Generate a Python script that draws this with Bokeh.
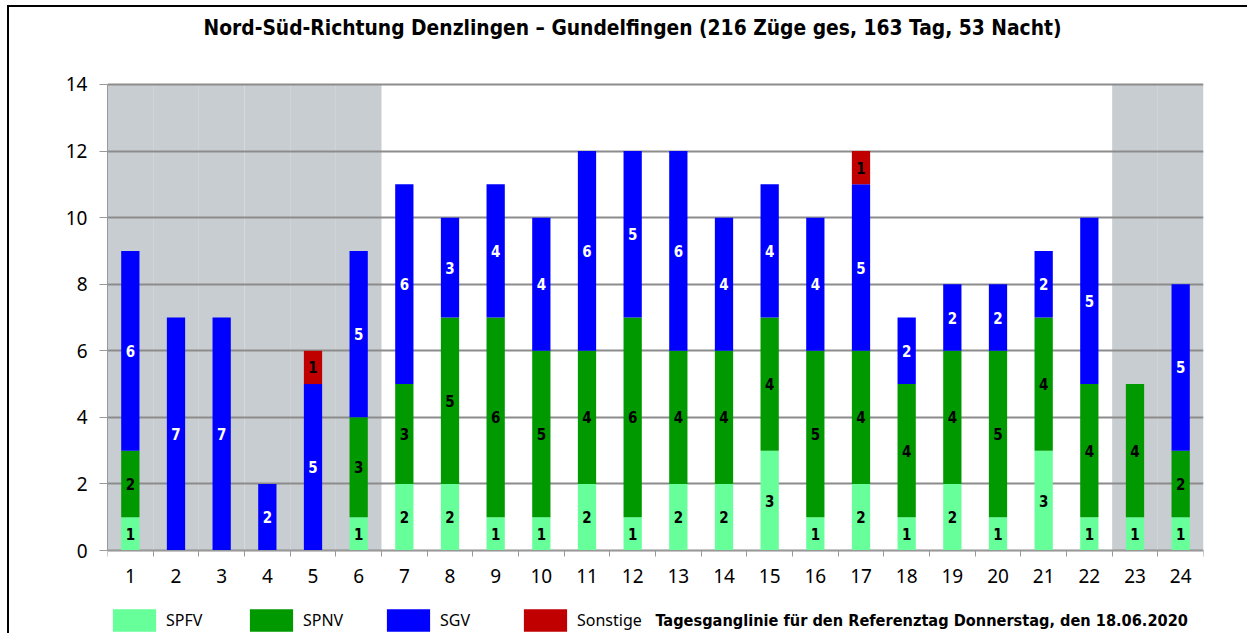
from bokeh.plotting import figure
from bokeh.models import ColumnDataSource, FixedTicker, Legend, LegendItem, Label, Range1d
from bokeh.core.properties import value
from bokeh.embed import file_html
from bokeh.resources import INLINE

hours = list(range(1, 25))
spfv = [1, 0, 0, 0, 0, 1, 2, 2, 1, 1, 2, 1, 2, 2, 3, 1, 2, 1, 2, 1, 3, 1, 1, 1]
spnv = [2, 0, 0, 0, 0, 3, 3, 5, 6, 5, 4, 6, 4, 4, 4, 5, 4, 4, 4, 5, 4, 4, 4, 2]
sgv = [6, 7, 7, 2, 5, 5, 6, 3, 4, 4, 6, 5, 6, 4, 4, 4, 5, 2, 2, 2, 2, 5, 0, 5]
sonst = [0, 0, 0, 0, 1, 0, 0, 0, 0, 0, 0, 0, 0, 0, 0, 0, 1, 0, 0, 0, 0, 0, 0, 0]
night_hours = [1, 2, 3, 4, 5, 6, 23, 24]
series = ["SPFV", "SPNV", "SGV", "Sonstige"]
colors = ["#66FF99", "#009900", "#0000FF", "#C00000"]
label_colors = ["#000000", "#000000", "#FFFFFF", "#000000"]
y_ticks = [0, 2, 4, 6, 8, 10, 12, 14]
title_text = "Nord-Süd-Richtung Denzlingen \u2013 Gundelfingen (216 Züge ges, 163 Tag, 53 Nacht)"
footnote = "Tagesganglinie  für den Referenztag Donnerstag, den 18.06.2020"

W, H = 1240, 628
# frame spans the full canvas height; y range extended so 0..14 maps to the chart area
p = figure(width=W, height=H, output_backend="svg", toolbar_location=None,
           x_range=Range1d(0.5, 24.5), y_range=Range1d(-2.553, 16.313),
           min_border_left=98, min_border_right=46, min_border_top=0, min_border_bottom=0)
p.styles = {"border-left": "2px solid #000000", "border-top": "2px solid #000000"}
p.margin = (5, 0, 0, 7)
p.outline_line_color = None
p.background_fill_color = "#FFFFFF"

# night shading
night_src = ColumnDataSource(dict(x=night_hours, top=[14] * len(night_hours)))
p.vbar(x="x", top="top", bottom=0, width=1.0, source=night_src,
       fill_color="#C8CDD1", line_color=None, level="image")

# stacked bars
data = dict(x=hours, SPFV=spfv, SPNV=spnv, SGV=sgv, Sonstige=sonst)
src = ColumnDataSource(data)
rends = p.vbar_stack(series, x="x", width=0.4, source=src, color=colors, line_color=None)

# segment labels
lx, ly, lt, lc = [], [], [], []
for i, h in enumerate(hours):
    base = 0
    for s, vals in enumerate([spfv, spnv, sgv, sonst]):
        v = vals[i]
        if v > 0:
            lx.append(h)
            ly.append(base + v / 2)
            lt.append(str(v))
            lc.append(label_colors[s])
        base += v
lab_src = ColumnDataSource(dict(x=lx, y=ly, t=lt, c=lc))
p.text(x="x", y="y", text="t", source=lab_src, text_color="c",
       text_align="center", text_baseline="middle",
       text_font=value("DejaVu Sans Condensed"), text_font_style="bold",
       text_font_size="15px")

# axes
p.yaxis.ticker = FixedTicker(ticks=y_ticks)
p.yaxis.bounds = (0, 14)
p.yaxis.axis_line_color = "#999999"
p.yaxis.major_tick_line_color = "#999999"
p.yaxis.major_tick_out = 8
p.yaxis.major_tick_in = 0
p.yaxis.minor_tick_line_color = None
p.yaxis.major_label_text_font = "Noto Sans"
p.yaxis.major_label_text_font_size = "19px"
p.yaxis.major_label_text_color = "#000000"
p.yaxis.major_label_standoff = 12

p.xaxis.fixed_location = 0
p.xaxis.ticker = FixedTicker(ticks=hours, minor_ticks=[h - 0.5 for h in hours] + [24.5])
p.xaxis.axis_line_color = "#999999"
p.xaxis.major_tick_line_color = None
p.xaxis.minor_tick_line_color = "#999999"
p.xaxis.minor_tick_out = 6
p.xaxis.minor_tick_in = 0
p.xaxis.major_label_text_font = "Noto Sans"
p.xaxis.major_label_text_font_size = "19px"
p.xaxis.major_label_text_color = "#000000"
p.xaxis.major_label_standoff = 12

p.xgrid.grid_line_color = None
p.ygrid.ticker = FixedTicker(ticks=y_ticks)
p.ygrid.grid_line_color = "#8C8C8C"
p.ygrid.grid_line_width = 2

# legend
items = [LegendItem(label=s, renderers=[r]) for s, r in zip(series, rends)]
legend = Legend(items=items, orientation="horizontal", location=(0, 1),
                glyph_width=54, glyph_height=28, label_standoff=5, label_width=78,
                spacing=0, padding=0, margin=0, border_line_color=None,
                background_fill_alpha=0, label_text_font="Noto Sans",
                label_text_font_size="16px", label_text_color="#000000")
p.add_layout(legend, "center")

p.add_layout(Label(x=548, y=15, x_units="screen", y_units="screen", text=footnote,
                   text_font="DejaVu Sans Condensed", text_font_style="bold",
                   text_font_size="16.2px", text_baseline="middle", text_color="#000000"))
p.add_layout(Label(x=525, y=608, x_units="screen", y_units="screen", text=title_text,
                   text_font="DejaVu Sans Condensed", text_font_style="bold",
                   text_font_size="20.8px", text_align="center", text_baseline="middle",
                   text_color="#000000"))

open("out.html", "w").write(file_html(p, INLINE))
